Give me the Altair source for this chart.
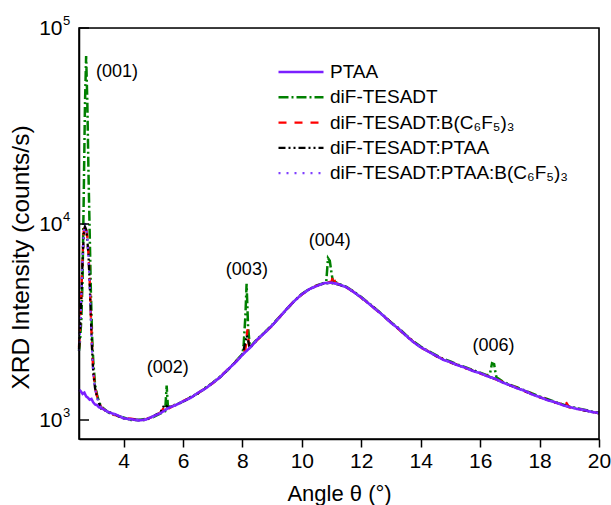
import altair as alt
import pandas as pd

FONT = "Liberation Sans"

series_names = ["PTAA", "diF-TESADT", "diF-TESADT:B(C₆F₅)₃", "diF-TESADT:PTAA", "diF-TESADT:PTAA:B(C₆F₅)₃"]
series_colors = ["#7B1FFF", "#008000", "#FF0000", "#000000", "#7F3FFF"]
series_dash = [[1, 0], [10, 3, 2, 3], [8, 8], [7, 3, 2, 3, 2, 3], [2, 6]]
series_width = [2.6, 2.2, 2.2, 2.2, 2.2]
draw_order = ["diF-TESADT", "diF-TESADT:B(C₆F₅)₃", "diF-TESADT:PTAA", "PTAA", "diF-TESADT:PTAA:B(C₆F₅)₃"]

# common 2θ grid (3.25 .. 20, every 0.25)
theta_grid = [3.25, 3.5, 3.75, 4.0, 4.25, 4.5, 4.75, 5.0, 5.25, 5.5, 5.75, 6.0, 6.25, 6.5, 6.75, 7.0,
              7.25, 7.5, 7.75, 8.0, 8.25, 8.5, 8.75, 9.0, 9.25, 9.5, 9.75, 10.0, 10.25, 10.5, 10.75, 11.0,
              11.25, 11.5, 11.75, 12.0, 12.25, 12.5, 12.75, 13.0, 13.25, 13.5, 13.75, 14.0, 14.25, 14.5, 14.75, 15.0,
              15.25, 15.5, 15.75, 16.0, 16.25, 16.5, 16.75, 17.0, 17.25, 17.5, 17.75, 18.0, 18.25, 18.5, 18.75, 19.0,
              19.25, 19.5, 19.75, 20.0]

# --- PTAA
ptaa_head_x = [2.50, 2.56, 2.62, 2.68, 2.74, 2.80, 2.86, 2.92, 2.98, 3.04, 3.11, 3.18]
ptaa_head_y = [1430, 1400, 1360, 1380, 1320, 1300, 1270, 1280, 1230, 1200, 1190, 1160]
ptaa_grid_y = [1150, 1095, 1065, 1020, 1010, 995, 1005, 1045, 1085, 1150, 1190, 1245, 1295, 1375, 1445, 1545,
               1655, 1805, 1955, 2150, 2335, 2575, 2785, 3040, 3345, 3700, 4050, 4380, 4650, 4830, 4990, 5020,
               4920, 4760, 4490, 4220, 3930, 3650, 3400, 3130, 2930, 2700, 2500, 2350, 2235, 2135, 2030, 1975,
               1900, 1850, 1780, 1735, 1670, 1625, 1555, 1505, 1450, 1410, 1350, 1310, 1265, 1235, 1195, 1165,
               1140, 1125, 1100, 1085]
ptaa_peak_x = []
ptaa_peak_y = []

# --- diF-TESADT
tes_head_x = [2.50, 2.54, 2.58, 2.62, 2.66, 2.70, 2.74, 2.78, 2.82, 2.86, 2.90, 2.94, 2.98, 3.04, 3.11, 3.18]
tes_head_y = [2250, 2600, 3300, 5200, 14000, 40000, 72000, 42000, 18000, 9000, 4500, 2700, 2000, 1520, 1340, 1230]
tes_grid_y = [1170, 1090, 1050, 1030, 1000, 1000, 1015, 1035, 1080, 1160, 1200, 1240, 1310, 1365, 1460, 1550,
              1670, 1790, 1975, 2170, 2350, 2590, 2800, 3060, 3360, 3680, 4060, 4400, 4660, 4860, 5000, 5600,
              4950, 4780, 4520, 4240, 3950, 3680, 3410, 3150, 2950, 2720, 2520, 2370, 2250, 2150, 2050, 1990,
              1915, 1860, 1800, 1745, 1690, 1800, 1575, 1515, 1465, 1415, 1365, 1320, 1280, 1240, 1205, 1170,
              1150, 1130, 1105, 1090]
tes_peak_x = [5.40, 5.45, 5.49, 8.04, 8.10, 8.14, 8.19, 10.82, 10.88, 10.94, 11.04, 16.33, 16.40, 16.47, 16.55]
tes_peak_y = [1110, 1500, 1180, 2400, 3400, 4950, 3000, 5050, 6700, 6500, 5150, 1720, 1950, 1930, 1650]

# --- diF-TESADT:B(C6F5)3
bcf_head_x = [2.50, 2.54, 2.58, 2.62, 2.66, 2.70, 2.74, 2.78, 2.82, 2.86, 2.90, 2.94, 2.98, 3.04, 3.11, 3.18]
bcf_head_y = [2350, 3100, 4400, 6800, 9200, 9900, 9600, 8600, 7000, 5100, 3400, 2350, 1780, 1460, 1320, 1220]
bcf_grid_y = [1160, 1085, 1055, 1025, 1015, 1000, 1010, 1040, 1095, 1140, 1200, 1250, 1300, 1370, 1455, 1540,
              1660, 1810, 1960, 2160, 2345, 2560, 2790, 3030, 3350, 3690, 4060, 4370, 4640, 4850, 4990, 5080,
              4930, 4750, 4500, 4200, 3940, 3650, 3390, 3150, 2910, 2700, 2510, 2340, 2245, 2120, 2045, 1965,
              1910, 1840, 1790, 1725, 1680, 1615, 1570, 1500, 1460, 1400, 1360, 1305, 1275, 1230, 1205, 1160,
              1145, 1120, 1105, 1080]
bcf_peak_x = [5.42, 8.10, 8.17, 8.22, 11.06, 11.12, 18.83]
bcf_peak_y = [1190, 2300, 2900, 2400, 5500, 5000, 1270]

# --- diF-TESADT:PTAA
tp_head_x = [2.50, 2.54, 2.58, 2.62, 2.66, 2.70, 2.74, 2.78, 2.82, 2.86, 2.90, 2.94, 2.98, 3.04, 3.11, 3.18]
tp_head_y = [2300, 3000, 4200, 6500, 8800, 9700, 9400, 8300, 6900, 5000, 3300, 2300, 1750, 1450, 1310, 1210]
tp_grid_y = [1140, 1100, 1060, 1020, 1005, 1000, 1000, 1045, 1100, 1160, 1190, 1240, 1300, 1365, 1450, 1545,
             1650, 1800, 1965, 2150, 2330, 2570, 2795, 3035, 3340, 3700, 4040, 4390, 4640, 4840, 4980, 5000,
             4900, 4750, 4500, 4200, 3930, 3660, 3395, 3140, 2920, 2700, 2500, 2355, 2240, 2130, 2040, 1970,
             1905, 1845, 1785, 1735, 1675, 1620, 1560, 1505, 1455, 1405, 1355, 1310, 1270, 1235, 1200, 1165,
             1145, 1120, 1100, 1085]
tp_peak_x = [5.38, 8.15]
tp_peak_y = [1200, 2700]

# --- diF-TESADT:PTAA:B(C6F5)3
tpb_head_x = [2.50, 2.54, 2.58, 2.62, 2.66, 2.70, 2.74, 2.78, 2.82, 2.86, 2.90, 2.94, 2.98, 3.04, 3.11, 3.18]
tpb_head_y = [2250, 2950, 4300, 6600, 9000, 10100, 9700, 8500, 6800, 4900, 3250, 2250, 1720, 1430, 1300, 1205]
tpb_grid_y = [1155, 1090, 1060, 1030, 1000, 1005, 1010, 1040, 1090, 1150, 1195, 1245, 1300, 1370, 1450, 1540,
              1660, 1800, 1960, 2155, 2340, 2570, 2790, 3040, 3350, 3700, 4050, 4385, 4645, 4840, 4985, 5030,
              4920, 4755, 4495, 4210, 3935, 3655, 3395, 3140, 2925, 2705, 2505, 2350, 2240, 2130, 2040, 1970,
              1905, 1845, 1785, 1735, 1675, 1620, 1560, 1505, 1455, 1405, 1355, 1310, 1270, 1235, 1200, 1165,
              1145, 1120, 1100, 1085]
tpb_peak_x = []
tpb_peak_y = []

series_parts = {
    "PTAA": (ptaa_head_x, ptaa_head_y, ptaa_grid_y, ptaa_peak_x, ptaa_peak_y),
    "diF-TESADT": (tes_head_x, tes_head_y, tes_grid_y, tes_peak_x, tes_peak_y),
    "diF-TESADT:B(C₆F₅)₃": (bcf_head_x, bcf_head_y, bcf_grid_y, bcf_peak_x, bcf_peak_y),
    "diF-TESADT:PTAA": (tp_head_x, tp_head_y, tp_grid_y, tp_peak_x, tp_peak_y),
    "diF-TESADT:PTAA:B(C₆F₅)₃": (tpb_head_x, tpb_head_y, tpb_grid_y, tpb_peak_x, tpb_peak_y),
}

rows = []
for name in draw_order:
    hx, hy, gy, px, py = series_parts[name]
    assert len(gy) == len(theta_grid)
    pts = list(zip(hx, hy)) + list(zip(theta_grid, gy)) + list(zip(px, py))
    pts.sort(key=lambda p: p[0])
    for i, (x, y) in enumerate(pts):
        rows.append({"series": name, "theta": x, "intensity": y, "idx": i})
df = pd.DataFrame(rows)

# annotations
peak_labels = ["(001)", "(002)", "(003)", "(004)", "(006)"]
peak_label_x = [3.78, 5.49, 8.15, 10.94, 16.45]
peak_label_y = [59800, 1836, 5837, 8200, 2376]
ann_df = pd.DataFrame({"theta": peak_label_x, "intensity": peak_label_y, "label": peak_labels})

# y tick decades with exponents
y_tick_values = [1000, 10000, 100000]
y_tick_exponents = ["3", "4", "5"]
tick_df = pd.DataFrame({"intensity": y_tick_values, "exp": y_tick_exponents,
                        "theta": [2.5, 2.5, 2.5]})

x_ticks = [4, 6, 8, 10, 12, 14, 16, 18, 20]
x_domain = [2.5, 20]
y_domain = [800, 100000]
frame_df = pd.DataFrame({"x0": [x_domain[0]], "x1": [x_domain[1]], "y0": [y_domain[0]], "y1": [y_domain[1]]})

xscale = alt.Scale(domain=x_domain, nice=False, zero=False)
yscale = alt.Scale(type="log", domain=y_domain, nice=False)

xaxis = alt.Axis(values=x_ticks, tickSize=8, tickWidth=1.5, tickColor="black", labelFontSize=21, labelPadding=3,
                 labelFont=FONT, labelColor="black", domainColor="black", domainWidth=1.5, grid=False,
                 title="Angle θ (°)", titleFont=FONT, titleColor="black", titleFontSize=22, titleFontWeight="normal",
                 titleBaseline="alphabetic", titleY=61.5, labelFlush=False)
yaxis = alt.Axis(values=y_tick_values, ticks=False, tickSize=0, labelPadding=17, labelFontSize=21,
                 labelFont=FONT, labelColor="black", domainColor="black", domainWidth=1.5, grid=False,
                 labelExpr="'10'", title="XRD Intensity (counts/s)", titleFont=FONT, titleColor="black",
                 titleFontSize=24.5, titleFontWeight="normal", titleAngle=270, titleX=-51, titleY=229,
                 titleBaseline="alphabetic", titleAlign="center")

legend = alt.Legend(
    orient="none", legendX=198, legendY=33,
    symbolType="stroke", symbolSize=2025,
    clipHeight=22, rowPadding=3.3, labelOffset=5,
    labelFont=FONT, labelFontSize=19, labelColor="black", labelLimit=500, padding=0,
)

X = alt.X("theta:Q", scale=xscale, axis=xaxis, title="Angle θ (°)")
Y = alt.Y("intensity:Q", scale=yscale, axis=yaxis, title="XRD Intensity (counts/s)")
Xn = alt.X("theta:Q", scale=xscale, axis=None)
Yn = alt.Y("intensity:Q", scale=yscale, axis=None)

lines = alt.Chart(df).mark_line().encode(
    x=X, y=Y,
    color=alt.Color("series:N", title=None, scale=alt.Scale(domain=series_names, range=series_colors), legend=legend),
    strokeDash=alt.StrokeDash("series:N", title=None, scale=alt.Scale(domain=series_names, range=series_dash), legend=legend),
    strokeWidth=alt.StrokeWidth("series:N", title=None, scale=alt.Scale(domain=series_names, range=series_width), legend=legend),
    order="idx:Q",
)

# plot frame as an unfilled rectangle spanning the full scale domains
frame = alt.Chart(frame_df).mark_rect(fillOpacity=0, stroke="black", strokeWidth=1.6).encode(
    x=alt.X("x0:Q", scale=xscale, axis=None), x2="x1:Q",
    y=alt.Y("y0:Q", scale=yscale, axis=None), y2="y1:Q",
)

ticks = alt.Chart(tick_df).mark_rule(color="black", strokeWidth=1.5).encode(
    y=Yn,
    x=alt.value(0), x2=alt.value(10),
)

exps = alt.Chart(tick_df).mark_text(font=FONT, fontSize=13, color="black", align="left", baseline="middle",
                                    dx=-16, dy=-7).encode(
    y=Yn, x=Xn,
    text="exp:N",
)

ann = alt.Chart(ann_df).mark_text(font=FONT, fontSize=18, color="black", baseline="middle").encode(
    x=Xn, y=Yn,
    text="label:N",
)

chart = alt.layer(lines, frame, ticks, exps, ann).resolve_axis(
    x="independent", y="independent",
).properties(
    width=520, height=411,
    background="white",
    autosize=alt.AutoSizeParams(type="none"),
    padding={"left": 79, "top": 28, "right": 12, "bottom": 66},
)

chart.save("out.html", embed_options={"renderer": "svg", "actions": False})
